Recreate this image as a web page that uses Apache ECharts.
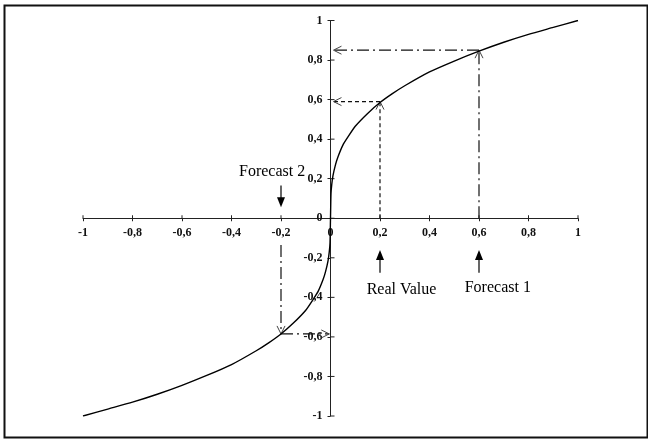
<!DOCTYPE html>
<html>
<head>
<meta charset="utf-8">
<script src="https://cdn.jsdelivr.net/npm/echarts@6/dist/echarts.min.js"></script>
<style>
html,body{margin:0;padding:0;background:#fff;}
#c{width:648px;height:439px;}
</style>
</head>
<body>
<div id="c"></div>
<script>
// Curve points
const curveX = [-1, -0.9, -0.8, -0.7, -0.6, -0.5, -0.4, -0.3, -0.25, -0.2, -0.15, -0.1, -0.07, -0.05, -0.03, -0.02, -0.01, -0.005, -0.002, 0, 0.002, 0.005, 0.01, 0.02, 0.03, 0.05, 0.07, 0.1, 0.15, 0.2, 0.25, 0.3, 0.4, 0.5, 0.6, 0.7, 0.8, 0.9, 1];
const curveY = [-1, -0.965, -0.93, -0.89, -0.845, -0.795, -0.74, -0.67, -0.63, -0.585, -0.53, -0.465, -0.41, -0.37, -0.31, -0.27, -0.215, -0.17, -0.125, 0, 0.125, 0.17, 0.215, 0.27, 0.31, 0.37, 0.41, 0.465, 0.53, 0.585, 0.63, 0.67, 0.74, 0.795, 0.845, 0.89, 0.93, 0.965, 1];

// Axis ticks (tick labels drawn at the crossing axes)
const axisMin = -1, axisMax = 1, axisStep = 0.2;
const tickVals = [-1, -0.8, -0.6, -0.4, -0.2, 0, 0.2, 0.4, 0.6, 0.8, 1];
const tickLabels = ['-1', '-0,8', '-0,6', '-0,4', '-0,2', '0', '0,2', '0,4', '0,6', '0,8', '1'];

// Annotations
const annNames   = ['Forecast 1', 'Real Value', 'Forecast 2'];
const annX       = [0.6, 0.2, -0.2];
const annY       = [0.85, 0.59, -0.585];
const annStartY  = [0, 0, -0.135];
const annEndX    = [0.012, 0.012, -0.005];
const annDash    = [[12, 4, 2, 4], [4, 3], [12, 4, 2, 4]];
const labelX     = [0.676, 0.287, -0.236];
const labelY     = [-0.35, -0.36, 0.235];
const arrowFromY = [-0.275, -0.275, 0.165];
const arrowToY   = [-0.16, -0.16, 0.055];

const tickFontStr = 'bold 12px "Liberation Serif"';

function baseAxis() {
  return {
    type: 'value', min: axisMin, max: axisMax, interval: axisStep,
    splitLine: {show: false},
    axisLine: {onZero: true, lineStyle: {color: '#222', width: 1}},
    axisTick: {show: true, length: 3, lineStyle: {color: '#222'}},
    axisLabel: {show: false}
  };
}

function chevron(tip, from, col) {
  const dx = tip[0] - from[0], dy = tip[1] - from[1];
  const L = Math.hypot(dx, dy) || 1;
  const ux = dx / L, uy = dy / L;
  const bx = tip[0] - ux * 8, by = tip[1] - uy * 8;
  return {
    type: 'polyline',
    shape: {points: [[bx - uy * 4, by + ux * 4], tip, [bx + uy * 4, by - ux * 4]]},
    style: {stroke: col, lineWidth: 1, fill: null}
  };
}

const chart = echarts.init(document.getElementById('c'), null, {renderer: 'canvas'});
chart.setOption({
  animation: false,
  backgroundColor: '#fff',
  graphic: [{
    type: 'rect', left: 2, top: 3, shape: {width: 643, height: 432},
    style: {fill: null, stroke: '#111', lineWidth: 2}, silent: true
  }],
  grid: {left: 83, right: 70, top: 20.5, bottom: 23},
  xAxis: baseAxis(),
  yAxis: baseAxis(),
  series: [
    {
      type: 'line',
      data: curveX.map((x, i) => [x, curveY[i]]),
      showSymbol: false, smooth: 0.2,
      lineStyle: {color: '#000', width: 1.4}, z: 5
    },
    {
      // tick labels and crossing tick marks placed on the axes through the scales
      type: 'custom', z: 3, silent: true,
      data: tickVals.map((v, i) => [v, i]),
      renderItem: function (params, api) {
        const i = api.value(1);
        const v = tickVals[i];
        const px = api.coord([v, 0]);
        const py = api.coord([0, v]);
        const kids = [
          {type: 'text', x: px[0], y: px[1] + 9,
           style: {text: tickLabels[i], fill: '#111', font: tickFontStr, align: 'center', verticalAlign: 'top'}},
          {type: 'text', x: py[0] - 8, y: py[1],
           style: {text: tickLabels[i], fill: '#111', font: tickFontStr, align: 'right', verticalAlign: 'middle'}},
          {type: 'line', shape: {x1: px[0], y1: px[1], x2: px[0], y2: px[1] - 3}, style: {stroke: '#222', lineWidth: 1}},
          {type: 'line', shape: {x1: py[0], y1: py[1], x2: py[0] + 4, y2: py[1]}, style: {stroke: '#222', lineWidth: 1}}
        ];
        return {type: 'group', children: kids};
      }
    },
    {
      type: 'custom', z: 4, silent: true,
      data: annNames.map((n, i) => [annX[i], annY[i], i]),
      renderItem: function (params, api) {
        const i = api.value(2);
        const p0 = api.coord([annX[i], annStartY[i]]);
        const p1 = api.coord([annX[i], annY[i]]);
        const p2 = api.coord([annEndX[i], annY[i]]);
        const col = '#111';
        const a0 = api.coord([annX[i], arrowFromY[i]]);
        const a1 = api.coord([annX[i], arrowToY[i]]);
        const dir = Math.sign(a1[1] - a0[1]);
        const lp = api.coord([labelX[i], labelY[i]]);
        return {
          type: 'group',
          children: [
            {type: 'line', shape: {x1: p0[0], y1: p0[1], x2: p1[0], y2: p1[1]},
             style: {stroke: col, lineWidth: 1.2, lineDash: annDash[i]}},
            chevron(p1, p0, '#444'),
            {type: 'line', shape: {x1: p1[0], y1: p1[1], x2: p2[0], y2: p2[1]},
             style: {stroke: col, lineWidth: 1.2, lineDash: annDash[i]}},
            chevron(p2, p1, '#444'),
            {type: 'line', shape: {x1: a0[0], y1: a0[1], x2: a1[0], y2: a1[1] - dir * 6},
             style: {stroke: '#000', lineWidth: 1.2}},
            {type: 'polygon', shape: {points: [[a1[0], a1[1]], [a1[0] - 4, a1[1] - dir * 10], [a1[0] + 4, a1[1] - dir * 10]]},
             style: {fill: '#000'}},
            {type: 'text', x: lp[0], y: lp[1],
             style: {text: annNames[i], fill: '#000', font: '16px "Liberation Serif"', align: 'center', verticalAlign: 'middle'}}
          ]
        };
      }
    }
  ]
});
</script>
</body>
</html>
